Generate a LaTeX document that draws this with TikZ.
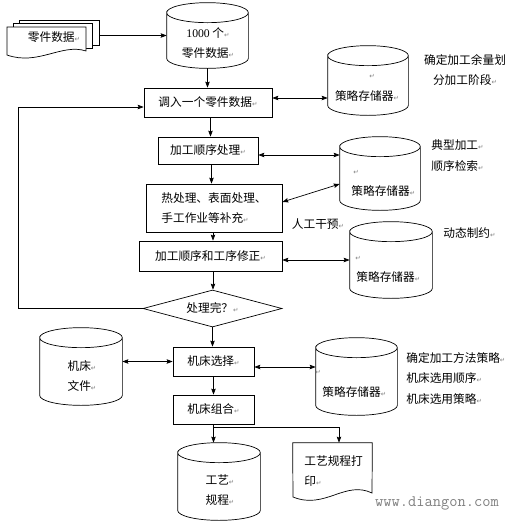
\documentclass[tikz,border=0pt]{standalone}
\usepackage{fontspec}
\setmainfont{Noto Sans CJK SC}
\newfontfamily\symfont{DejaVu Sans}
\newfontfamily\digitfont{Liberation Serif}
\usetikzlibrary{shapes.geometric,arrows.meta,calc}
\newcommand\ret{{\symfont\fontsize{6.5}{6.5}\selectfont\textcolor{gray}{↵}}}
\newcommand\cylshape[1]{%
  \draw[fill=white] let \p1=(#1.north west), \p2=(#1.south east), \n1={(\x2-\x1)/2} in
  ({\x1},{\y1-10pt}) arc[start angle=180, end angle=-180, x radius=\n1, y radius=10pt]
  -- ({\x1},{\y2+10pt}) arc[start angle=180, end angle=360, x radius=\n1, y radius=10pt]
  -- ({\x2},{\y1-10pt});}
\begin{document}
\begin{tikzpicture}[x=1pt,y=-1pt,line width=0.7pt,
  every node/.style={font=\fontsize{11.7}{20.5}\selectfont},
  box/.style={draw, fill=white, inner sep=0pt},
  area/.style={inner sep=0pt},
  lbl/.style={inner sep=0pt, align=center},
  lbll/.style={inner sep=0pt, align=left, anchor=west},
  arr/.style={-{Stealth[length=6pt,width=4.5pt,inset=1pt]}},
  darr/.style={{Stealth[length=6pt,width=4.5pt,inset=1pt]}-{Stealth[length=6pt,width=4.5pt,inset=1pt]}},
  dec/.style={shape=diamond, draw, fill=white, aspect=3.75, inner sep=0pt}]
\useasboundingbox (0,0) rectangle (510,523);

% multi-document
\node[area, draw, fill=white, minimum width=80pt, minimum height=25pt] (d1) at (59,32.5) {};
\draw[fill=white] (13,23) rectangle (92,48);
\draw[fill=white] (7,27) -- (86,27) -- (86,51) .. controls (62,43) and (38,66) .. (7,55) -- cycle;
\node[lbl] (d1t) at (54,37) {零件数据\ret};

% cylinders
\node[area, minimum width=81pt, minimum height=65pt] (c1) at (207.5,35.5) {};
\cylshape{c1}
\node[area, minimum width=80pt, minimum height=69pt] (c2) at (368,80.5) {};
\cylshape{c2}
\node[area, minimum width=80pt, minimum height=73pt] (c3) at (380,173.5) {};
\cylshape{c3}
\node[area, minimum width=82pt, minimum height=76pt] (c4) at (391,260) {};
\cylshape{c4}
\node[area, minimum width=82pt, minimum height=77pt] (c6) at (81,366.5) {};
\cylshape{c6}
\node[area, minimum width=81pt, minimum height=77pt] (c5) at (356.5,376.5) {};
\cylshape{c5}
\node[area, minimum width=82pt, minimum height=77pt] (c7) at (219,481.5) {};
\cylshape{c7}

% document
\node[area, minimum width=79pt, minimum height=54pt] (d2) at (332.5,470) {};
\draw[fill=white] (d2.north west) -- (d2.north east) -- (372,493) .. controls (345,480) and (325,510) .. (293,497) -- cycle;

% boxes
\node[box, minimum width=128pt, minimum height=29pt] (b1) at (208,102.5) {调入一个零件数据\ret};
\node[box, minimum width=100pt, minimum height=27pt] (b2) at (208,150.5) {加工顺序处理\ret};
\node[box, minimum width=136pt, minimum height=48pt, align=left] (b3) at (214,208) {热处理、表面处理、\\手工作业等补充\ret};
\node[box, minimum width=143pt, minimum height=30pt] (b4) at (210.5,256) {加工顺序和工序修正\ret};
\node[dec, minimum width=139pt, minimum height=37pt] (dm) at (212.5,308.5) {处理完？\ret};
\node[box, minimum width=81pt, minimum height=29pt] (b5) at (213.5,361.5) {机床选择\ret};
\node[box, minimum width=81pt, minimum height=29pt] (b6) at (213.5,409.5) {机床组合\ret};

% connectors
\draw[arr] (c1.west -| d1.east) -- (c1.west);
\draw[arr] (c1.south) -- (c1.south |- b1.north);
\draw[darr] ([yshift=4.5pt]b1.east) -- ([yshift=4.5pt]b1.east -| c2.west);
\coordinate (lp) at (18,107);
\draw[arr] (dm.west) -| (lp) -- ([yshift=-4.5pt]b1.west);
\draw[arr] ([xshift=2.5pt]b1.south) -- ([xshift=2.5pt]b1.south |- b2.north);
\draw[darr] ([yshift=-4.5pt]b2.east) -- ([yshift=-4.5pt]b2.east -| c3.west);
\draw[arr] ([xshift=3.5pt]b2.south) -- ([xshift=3.5pt]b2.south |- b3.north);
\draw[darr] ([yshift=6pt]b3.east) -- ([yshift=-10.5pt]c3.west);
\draw[arr] ([xshift=-1pt]b3.south) -- ([xshift=-1pt]b3.south |- b4.north);
\draw[darr] (c4.west -| b4.east) -- (c4.west);
\draw[arr] ([xshift=2.5pt]b4.south) -- ([xshift=2.5pt]b4.south |- dm.north);
\draw[arr] (dm.south) -- (dm.south |- b5.north);
\draw[darr] (b5.west -| c6.east) -- (b5.west);
\draw[darr] ([yshift=-5.5pt]b5.east) -- ([yshift=-5.5pt]b5.east -| c5.west);
\draw[arr] (b5.south) -- (b6.north);
\draw[arr] (b6.south) -- (b6.south |- c7.north);
\draw[arr] ([yshift=-3pt]b6.south) -| ([xshift=6.5pt]d2.north);

% texts in shapes
\node[lbl] (c1t) at (208,43) {{\digitfont 1000} 个\ret\\零件数据\ret};
\node[lbl] (c2r) at (372,76) {\ret};
\node[lbl] (c2t) at (367,96) {策略存储器\ret};
\node[lbl] (c3r) at (356,172) {\ret};
\node[lbll] (c3t) at (351,191) {策略存储器\ret};
\node[lbl] (c4r) at (358,258) {\ret};
\node[lbll] (c4t) at (356,277) {策略存储器\ret};
\node[lbl] (c5r) at (318,372) {\ret};
\node[lbll] (c5t) at (322,392) {策略存储器\ret};
\node[lbl] (c6t) at (82,376) {机床\ret\\文件\ret};
\node[lbl] (c7t) at (220,490) {工艺\ret\\规程\ret};
\node[lbll] (d2t) at (304,471) {工艺规程打\\印\ret};

% side texts
\node[lbl] (t2) at (465,70) {确定加工余量划\\分加工阶段\ret};
\node[lbll] (t3) at (431,155.5) {典型加工\ret\\顺序检索\ret};
\node[lbl] (t4) at (318,224) {人工干预\ret};
\node[lbll] (t5) at (443,233) {动态制约\ret};
\node[lbll] (t6) at (406,378.5) {确定加工方法策略\ret\\机床选用顺序\ret\\机床选用策略\ret};
\node[lbl, text=gray] (wm) at (437,503) {\ttfamily\fontsize{16}{16}\selectfont www.diangon.com};
\end{tikzpicture}
\end{document}
